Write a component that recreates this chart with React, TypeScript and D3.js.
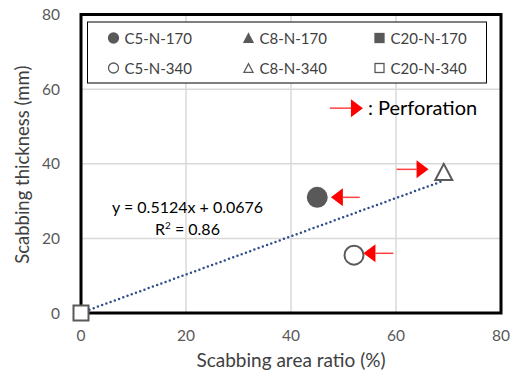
import { useEffect, useRef } from 'react';
import * as d3 from 'd3';

// series: [x = scabbing area ratio (%), y = scabbing thickness (mm)]
const seriesNames = ['C5-N-170', 'C8-N-170', 'C20-N-170', 'C5-N-340', 'C8-N-340', 'C20-N-340'];
const seriesShapes = ['circle', 'triangle', 'square', 'circle', 'triangle', 'square'];
const seriesFilled = [true, true, true, false, false, false];
const seriesX: (number | null)[] = [45, null, null, 52, 69.1, 0];
const seriesY: (number | null)[] = [31, null, null, 15.5, 37.8, 0];

const xTicks = [0, 20, 40, 60, 80];
const yTicks = [0, 20, 40, 60, 80];

const slope = 0.5124;
const intercept = 0.0676;
const trendRange = [0, 69.1];

// perforation arrows (tail x, tip x, y) in data units
const arrowTail = [53.1, 59.5, 60.1, 47.4];
const arrowTip = [47.6, 53.8, 66.2, 53.7];
const arrowY = [31, 16, 38.5, 54.9];

const FONT = 'Lato, "Open Sans", sans-serif';
const GRAY = '#595959';

export default function App() {
  const svgRef = useRef<SVGSVGElement>(null);

  useEffect(() => {
    if (!svgRef.current) return;
    const width = 510;
    const height = 374;
    const margin = { top: 14.5, right: 9, bottom: 61, left: 81 };
    const innerWidth = width - margin.left - margin.right;
    const innerHeight = height - margin.top - margin.bottom;

    const svg = d3.select(svgRef.current);
    svg.selectAll('*').remove();
    svg.attr('width', width).attr('height', height);

    const x = d3.scaleLinear().domain([0, 80]).range([0, innerWidth]);
    const y = d3.scaleLinear().domain([0, 80]).range([innerHeight, 0]);

    const g = svg.append('g').attr('transform', `translate(${margin.left},${margin.top})`);

    // grid
    g.selectAll('line.vg')
      .data(xTicks)
      .enter()
      .append('line')
      .attr('x1', (d) => x(d))
      .attr('x2', (d) => x(d))
      .attr('y1', 0)
      .attr('y2', innerHeight)
      .attr('stroke', '#d9d9d9')
      .attr('stroke-width', 1.5);
    g.selectAll('line.hg')
      .data(yTicks)
      .enter()
      .append('line')
      .attr('x1', 0)
      .attr('x2', innerWidth)
      .attr('y1', (d) => y(d))
      .attr('y2', (d) => y(d))
      .attr('stroke', '#d9d9d9')
      .attr('stroke-width', 1.5);

    // plot border
    g.append('rect')
      .attr('x', 0)
      .attr('y', 0)
      .attr('width', innerWidth)
      .attr('height', innerHeight)
      .attr('fill', 'none')
      .attr('stroke', '#000')
      .attr('stroke-width', 3);

    // tick labels
    g.selectAll('text.xt')
      .data(xTicks)
      .enter()
      .append('text')
      .attr('x', (d) => x(d))
      .attr('y', innerHeight + 28)
      .attr('text-anchor', 'middle')
      .attr('font-family', FONT)
      .attr('font-size', 15.5)
      .attr('fill', GRAY)
      .text((d) => d);
    g.selectAll('text.yt')
      .data(yTicks)
      .enter()
      .append('text')
      .attr('x', -21)
      .attr('y', (d) => y(d) + 5.5)
      .attr('text-anchor', 'end')
      .attr('font-family', FONT)
      .attr('font-size', 15.5)
      .attr('fill', GRAY)
      .text((d) => d);

    // axis titles
    g.append('text')
      .attr('x', innerWidth / 2)
      .attr('y', innerHeight + 54)
      .attr('text-anchor', 'middle')
      .attr('font-family', FONT)
      .attr('font-size', 19)
      .attr('fill', '#404040')
      .text('Scabbing area ratio (%)');
    g.append('text')
      .attr('transform', `translate(-52,${innerHeight / 2 + 1}) rotate(-90)`)
      .attr('text-anchor', 'middle')
      .attr('font-family', FONT)
      .attr('font-size', 18.5)
      .attr('fill', '#404040')
      .text('Scabbing thickness (mm)');

    // trend line
    g.append('line')
      .attr('x1', x(trendRange[0]))
      .attr('y1', y(slope * trendRange[0] + intercept))
      .attr('x2', x(trendRange[1]))
      .attr('y2', y(slope * trendRange[1] + intercept))
      .attr('stroke', '#2f4e8a')
      .attr('stroke-width', 2.5)
      .attr('stroke-dasharray', '0 4.5')
      .attr('stroke-linecap', 'round');

    const drawMarker = (
      sel: d3.Selection<SVGGElement, unknown, null, undefined>,
      shape: string,
      filled: boolean,
      size: number,
      sw: number
    ) => {
      const fill = filled ? GRAY : '#fff';
      if (shape === 'circle') {
        sel.append('circle').attr('r', size / 2).attr('fill', fill).attr('stroke', GRAY).attr('stroke-width', sw);
      } else if (shape === 'square') {
        sel
          .append('rect')
          .attr('x', -size / 2)
          .attr('y', -size / 2)
          .attr('width', size)
          .attr('height', size)
          .attr('fill', fill)
          .attr('stroke', GRAY)
          .attr('stroke-width', sw);
      } else {
        const h = size * 0.95;
        sel
          .append('path')
          .attr('d', `M0,${-h / 2}L${size / 2},${h / 2}L${-size / 2},${h / 2}Z`)
          .attr('fill', fill)
          .attr('stroke', GRAY)
          .attr('stroke-width', sw)
          .attr('stroke-linejoin', 'miter');
      }
    };

    // points
    seriesNames.forEach((name, i) => {
      const vx = seriesX[i];
      const vy = seriesY[i];
      if (vx === null || vy === null) return;
      const size = seriesShapes[i] === 'square' ? 15 : seriesShapes[i] === 'triangle' ? 17 : 19;
      const m = g.append('g').attr('transform', `translate(${x(vx)},${y(vy)})`);
      drawMarker(m, seriesShapes[i], seriesFilled[i], size, 2);
    });

    // arrows
    arrowTip.forEach((tip, i) => {
      const tx = x(tip);
      const ax = x(arrowTail[i]);
      const ay = y(arrowY[i]);
      const dir = ax > tx ? 1 : -1;
      const headLen = 12;
      g.append('line')
        .attr('x1', ax)
        .attr('x2', tx + dir * headLen)
        .attr('y1', ay)
        .attr('y2', ay)
        .attr('stroke', '#ff4040')
        .attr('stroke-width', 1.5);
      g.append('path')
        .attr('d', `M${tx},${ay}L${tx + dir * headLen},${ay - 9}L${tx + dir * headLen},${ay + 9}Z`)
        .attr('fill', '#ff0000');
    });

    g.append('text')
      .attr('x', x(arrowTip[3]) + 5)
      .attr('y', y(arrowY[3]) + 7)
      .attr('font-family', FONT)
      .attr('font-size', 20)
      .attr('fill', '#000')
      .text(': Perforation');

    // equation
    g.append('text')
      .attr('x', 31)
      .attr('y', 198)
      .attr('font-family', FONT)
      .attr('font-size', 16)
      .attr('fill', '#000')
      .text(`y = ${slope}x + ${intercept}`);
    const r2 = g
      .append('text')
      .attr('x', 74)
      .attr('y', 220)
      .attr('font-family', FONT)
      .attr('font-size', 16)
      .attr('fill', '#000');
    r2.append('tspan').text('R');
    r2.append('tspan').attr('font-size', 10).attr('dy', -6).text('2');
    r2.append('tspan').attr('dy', 6).text(' = 0.86');

    // legend
    const lg = g.append('g').attr('transform', 'translate(6.5,7.5)');
    lg.append('rect')
      .attr('width', 399)
      .attr('height', 61)
      .attr('fill', '#fff')
      .attr('stroke', '#000')
      .attr('stroke-width', 1);
    const colX = [26, 161, 292];
    const rowY = [16, 46];
    seriesNames.forEach((name, i) => {
      const cx = colX[i % 3];
      const cy = rowY[Math.floor(i / 3)];
      const m = lg.append('g').attr('transform', `translate(${cx},${cy})`);
      const size = seriesShapes[i] === 'circle' ? 10 : 9;
      drawMarker(m, seriesShapes[i], seriesFilled[i], size, 1.3);
      lg.append('text')
        .attr('x', cx + 11)
        .attr('y', cy + 5.5)
        .attr('font-family', FONT)
        .attr('font-size', 15)
        .attr('fill', '#404040')
        .text(name);
    });
  }, []);

  return <svg ref={svgRef} style={{ display: 'block', position: 'absolute', left: 0, top: 0 }} />;
}
